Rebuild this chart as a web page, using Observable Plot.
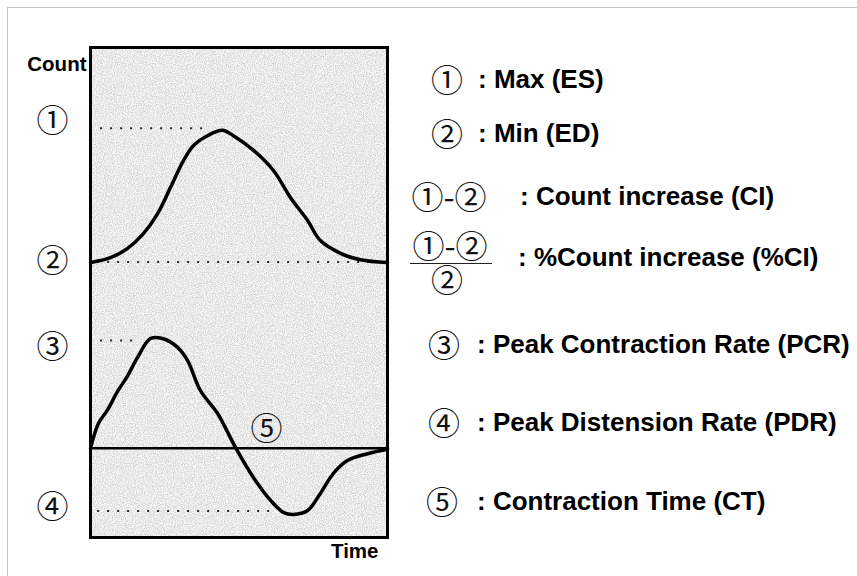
<!DOCTYPE html>
<html>
<head>
<meta charset="utf-8">
<script src="https://cdn.jsdelivr.net/npm/d3@7"></script>
<script src="https://cdn.jsdelivr.net/npm/@observablehq/plot@0.6"></script>
<style>
  html, body { margin: 0; padding: 0; background: #fff; }
  #wrap { position: relative; width: 857px; height: 576px; overflow: hidden; }
  #border { position: absolute; left: 7px; top: 7px; width: 860px; height: 580px;
            border-left: 1px solid #c4c4c4; border-top: 1px solid #c4c4c4; }
  #chart { position: absolute; left: 0; top: 0; }
  .sym { position: absolute; font-family: "Noto Sans CJK JP", "DejaVu Sans", sans-serif; font-size: 32px; color: #111; white-space: nowrap; }
  .txt { position: absolute; font-family: "Liberation Sans", Arial, sans-serif; font-weight: bold; font-size: 26px; color: #000; white-space: nowrap; }
</style>
</head>
<body>
<div id="wrap"><div id="border"></div><div id="chart"></div></div>
<script>
// ---- data (diagram units: time 0..100, vertical 0..100) ----
const countTime = [0, 6.7, 12.5, 17.8, 22.6, 26.9, 31.3, 34.7, 39.4, 44.4, 48.1, 54.9, 61.6, 67.3, 73.1, 77.4, 84.2, 90.9, 100];
const countValue = [56.1, 57.1, 59.0, 62.0, 66.1, 71.4, 76.9, 80.0, 82.0, 83.1, 82.0, 79.0, 74.9, 69.4, 64.7, 60.6, 58.0, 56.7, 56.1];

const rateTime = [0, 2.7, 5.7, 9.1, 12.5, 15.8, 20.2, 24.2, 29.3, 32.7, 37.0, 42.8, 48.8, 54.9, 60.6, 65.0, 68.4, 73.1, 77.4, 81.8, 86.5, 93.3, 100];
const rateValue = [18.2, 23.3, 26.0, 29.8, 33.0, 36.7, 40.6, 40.6, 38.8, 36.1, 30.0, 25.3, 18.4, 12.2, 7.6, 5.1, 4.7, 5.5, 9.0, 13.1, 15.7, 17.1, 18.0];

const rateZero = 18.2;

const refLabels = ["①", "②", "③", "④"];
const refValue = [83.5, 56.2, 40.2, 5.4];
const refStart = [3.4, 2.4, 3.4, 2.4];
const refEnd = [40.4, 100, 16.8, 62.3];

const ctLabel = "⑤";
const ctTime = 59.3;

const axisLabels = { y: "Count", x: "Time" };

const legendSymbols = ["①", "②", "①-②", "FRACTION", "③", "④", "⑤"];
const legendTexts = [": Max (ES)", ": Min (ED)", ": Count increase (CI)", ": %Count increase (%CI)",
  ": Peak Contraction Rate (PCR)", ": Peak Distension Rate (PDR)", ": Contraction Time (CT)"];

// ---- build tables ----
const countData = countTime.map((t, i) => ({ t, v: countValue[i] }));
const rateData = rateTime.map((t, i) => ({ t, v: rateValue[i] }));
const refs = refLabels.map((label, i) => ({ label, v: refValue[i], t1: refStart[i], t2: refEnd[i] }));

// layout offsets (style, not data)
const refLabelDy = [-7, 0, 7, -3];
const circFont = "Noto Sans CJK JP, DejaVu Sans, sans-serif";
const boldFont = "Liberation Sans, Arial, sans-serif";

// speckled background for the frame
function speckle(index, scales, values, dims) {
  const { width, height, marginLeft, marginRight, marginTop, marginBottom } = dims;
  const x = marginLeft, y = marginTop, w = width - marginLeft - marginRight, h = height - marginTop - marginBottom;
  const g = d3.create("svg:g");
  const f = g.append("defs").append("filter").attr("id", "speckle")
    .attr("filterUnits", "userSpaceOnUse").attr("x", x).attr("y", y).attr("width", w).attr("height", h)
    .attr("color-interpolation-filters", "sRGB");
  f.append("feTurbulence").attr("type", "fractalNoise").attr("baseFrequency", 0.9).attr("numOctaves", 2).attr("seed", 4);
  f.append("feColorMatrix").attr("type", "matrix")
    .attr("values", "0.35 0 0 0 0.74  0.35 0 0 0 0.74  0.35 0 0 0 0.74  0 0 0 0 1");
  g.append("rect").attr("x", x).attr("y", y).attr("width", w).attr("height", h)
    .attr("fill", "#e8e8e8").attr("filter", "url(#speckle)");
  return g.node();
}

const chart = Plot.plot({
  width: 857, height: 576,
  marginLeft: 90, marginRight: 470, marginTop: 47, marginBottom: 39,
  x: { domain: [0, 100], axis: null },
  y: { domain: [0, 100], axis: null },
  style: { background: "transparent", overflow: "visible" },
  marks: [
    speckle,
    Plot.ruleY(refs, { y: "v", x1: "t1", x2: "t2", stroke: "#2a2a2a", strokeWidth: 2, strokeDasharray: "2,8" }),
    Plot.ruleY([rateZero], { x1: 0, x2: 100, stroke: "#000", strokeWidth: 2.5 }),
    Plot.line(countData, { x: "t", y: "v", stroke: "#000", strokeWidth: 3.5, curve: "catmull-rom" }),
    Plot.line(rateData, { x: "t", y: "v", stroke: "#000", strokeWidth: 3.5, curve: "catmull-rom" }),
    Plot.frame({ stroke: "#000", strokeWidth: 3 }),
    ...refs.map((r, i) => Plot.text([r], { y: "v", text: "label", frameAnchor: "left", textAnchor: "middle",
      dx: -38, dy: refLabelDy[i], fontFamily: circFont, fontSize: 32, fill: "#111" })),
    Plot.text([ctLabel], { x: [ctTime], y: [rateZero], text: d => d, dy: -19, fontFamily: circFont, fontSize: 32, fill: "#111" }),
    Plot.text([axisLabels.y], { frameAnchor: "top-left", dx: -4, dy: 9, textAnchor: "end",
      fontFamily: boldFont, fontWeight: "bold", fontSize: 20.5, fill: "#000" }),
    Plot.text([axisLabels.x], { frameAnchor: "bottom-right", dx: -9, dy: 20, textAnchor: "end",
      fontFamily: boldFont, fontWeight: "bold", fontSize: 20.5, fill: "#000" })
  ]
});
document.getElementById("chart").appendChild(chart);

// ---- legend (HTML, right side) ----
const rowCenterY = [79, 133, 196, 257, 344, 422, 501];
const symCenterX = [447, 447, 449, 450, 444, 444, 442];
const textLeftX = [478, 478, 520, 518, 477, 477, 477];
const wrap = document.getElementById("wrap");
legendSymbols.forEach((s, i) => {
  const cy = rowCenterY[i];
  if (s === "FRACTION") {
    const num = document.createElement("div");
    num.className = "sym"; num.textContent = "①-②";
    num.style.cssText = `left:${symCenterX[i]}px; top:${cy - 24}px; transform:translateX(-50%); line-height:22px; height:22px;`;
    wrap.appendChild(num);
    const bar = document.createElement("div");
    bar.style.cssText = `position:absolute; left:410px; top:${cy + 6}px; width:82px; height:0; border-top:1.5px solid #222;`;
    wrap.appendChild(bar);
    const den = document.createElement("div");
    den.className = "sym"; den.textContent = "②";
    den.style.cssText = `left:447px; top:${cy + 10}px; transform:translateX(-50%); line-height:22px; height:22px;`;
    wrap.appendChild(den);
  } else {
    const sym = document.createElement("div");
    sym.className = "sym"; sym.textContent = s;
    sym.style.cssText = `left:${symCenterX[i]}px; top:${cy - 16}px; transform:translateX(-50%); line-height:30px;`;
    wrap.appendChild(sym);
  }
  const t = document.createElement("div");
  t.className = "txt"; t.textContent = legendTexts[i];
  t.style.cssText = `left:${textLeftX[i]}px; top:${cy - 15}px; line-height:30px;`;
  wrap.appendChild(t);
});
</script>
</body>
</html>
